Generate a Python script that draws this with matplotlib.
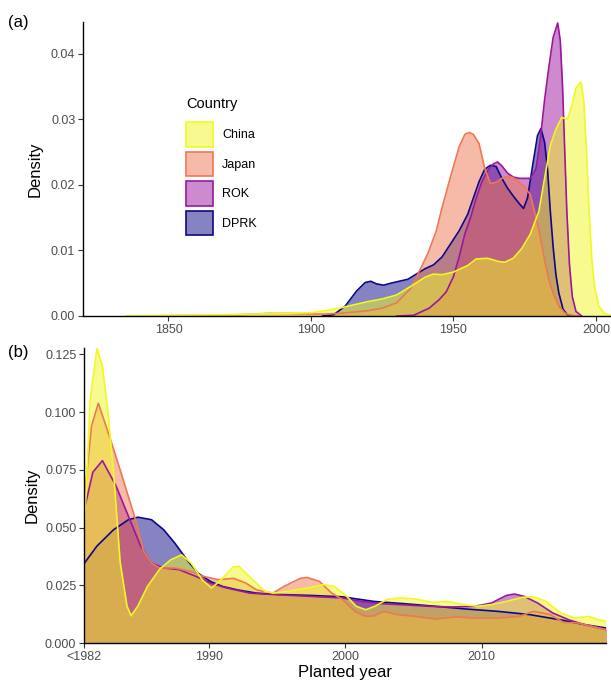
import matplotlib

matplotlib.use("Agg")
import matplotlib.pyplot as plt
from matplotlib.colors import to_rgba
from matplotlib.patches import Patch

plt.rcParams["font.family"] = ["Liberation Sans", "DejaVu Sans"]

COUNTRIES = ["China", "Japan", "ROK", "DPRK"]
COLORS = {"China": "#F0F921", "Japan": "#ED7953", "ROK": "#9C179E", "DPRK": "#0D0887"}
DRAW_ORDER = ["DPRK", "ROK", "Japan", "China"]

# ---- panel (a): full planting-year range ----
CHINA_A_YEAR = [1835, 1850, 1860, 1870, 1880, 1890, 1900, 1905, 1910, 1915, 1920, 1925,
                1930, 1935, 1940, 1943, 1946, 1950, 1955, 1958, 1962, 1966, 1968, 1971,
                1974, 1977, 1980, 1982, 1984, 1986, 1988, 1990, 1991.5, 1993, 1994.8,
                1995.7, 1996.6, 1997.5, 1998.5, 1999.5, 2001, 2003, 2005.3]
CHINA_A = [0, 0.0001, 0.00015, 0.0002, 0.0003, 0.0004, 0.0005, 0.0008, 0.0012, 0.0017,
           0.0022, 0.0026, 0.0032, 0.0045, 0.0059, 0.0064, 0.0063, 0.0067, 0.0077, 0.0087,
           0.0088, 0.0083, 0.0082, 0.0088, 0.0103, 0.0125, 0.016, 0.021, 0.026, 0.0285,
           0.0303, 0.0300, 0.032, 0.0348, 0.0357, 0.033, 0.026, 0.017, 0.009, 0.0045,
           0.0015, 0.0004, 0.0001]

JAPAN_A_YEAR = [1840, 1860, 1875, 1885, 1892, 1900, 1905, 1910, 1915, 1920, 1925, 1930,
                1935, 1938, 1941, 1944, 1946, 1948, 1950, 1952, 1954, 1955.5, 1957, 1959,
                1961, 1963, 1965, 1967, 1969, 1971, 1973, 1975, 1977, 1979, 1980.5, 1982,
                1983.5, 1985, 1987, 1989, 1991, 1994]
JAPAN_A = [0, 0.0001, 0.0002, 0.0004, 0.0004, 0.0003, 0.0003, 0.0004, 0.0006, 0.0008,
           0.0012, 0.002, 0.0042, 0.0068, 0.0095, 0.013, 0.0165, 0.0197, 0.0228, 0.0258,
           0.0277, 0.028, 0.0277, 0.0263, 0.0225, 0.0202, 0.0204, 0.021, 0.0213, 0.0211,
           0.0204, 0.0197, 0.0185, 0.015, 0.012, 0.0085, 0.0055, 0.0035, 0.0015, 0.0005,
           0.0001, 0]

ROK_A_YEAR = [1930, 1936, 1941.5, 1945, 1947.5, 1950, 1952, 1954, 1956, 1958, 1960, 1962,
              1964, 1965.5, 1967, 1969, 1971, 1973, 1975, 1977, 1979, 1980.5, 1982,
              1983.5, 1985, 1986.6, 1987.5, 1988.3, 1989, 1989.8, 1990.7, 1991.7, 1993, 1995]
ROK_A = [0, 0.0001, 0.0012, 0.0025, 0.0037, 0.006, 0.009, 0.0125, 0.015, 0.018, 0.0205,
         0.0222, 0.0232, 0.0235, 0.0229, 0.0218, 0.0212, 0.021, 0.021, 0.021, 0.0225,
         0.027, 0.033, 0.038, 0.0425, 0.0447, 0.042, 0.035, 0.026, 0.016, 0.008, 0.003,
         0.0007, 0]

DPRK_A_YEAR = [1904, 1908, 1912, 1916, 1919, 1921, 1923, 1925.5, 1928, 1931, 1934, 1937,
               1940, 1943, 1946, 1949, 1952, 1955, 1957, 1959, 1961, 1963, 1965, 1967,
               1969, 1971, 1973, 1974.6, 1976, 1978, 1979.5, 1980.7, 1982, 1983, 1984,
               1985, 1986, 1987, 1988.5, 1990, 1992]
DPRK_A = [0, 0.0002, 0.0015, 0.0038, 0.0051, 0.0053, 0.0049, 0.0047, 0.005, 0.0053,
          0.0056, 0.0064, 0.0072, 0.0078, 0.009, 0.011, 0.013, 0.0155, 0.018, 0.0205,
          0.0224, 0.023, 0.0228, 0.021, 0.0195, 0.0183, 0.0172, 0.0164, 0.018, 0.0235,
          0.0275, 0.0286, 0.0265, 0.0225, 0.016, 0.0105, 0.0062, 0.0035, 0.001, 0.0002, 0]

# ---- panel (b): 1982 onwards (earlier years pooled as "<1982") ----
CHINA_B_YEAR = [1980.88, 1981.3, 1981.8, 1982.2, 1982.6, 1983.0, 1983.5, 1984.0, 1984.3,
                1984.8, 1985.5, 1986.4, 1987.2, 1988.0, 1988.7, 1989.5, 1990.2, 1991.0,
                1991.8, 1992.2, 1993.1, 1994.1, 1994.8, 1995.8, 1997.2, 1998.4, 1999.2,
                2000.1, 2000.8, 2001.5, 2002.2, 2003.1, 2004.1, 2005.2, 2006.4, 2007.5,
                2008.7, 2009.7, 2010.7, 2011.8, 2013.0, 2013.8, 2014.7, 2015.8, 2016.8,
                2017.8, 2018.6, 2019.1]
CHINA_B = [0.05, 0.105, 0.1277, 0.12, 0.10, 0.075, 0.035, 0.016, 0.0118, 0.016, 0.0245,
           0.032, 0.036, 0.0382, 0.0346, 0.0274, 0.0238, 0.028, 0.033, 0.0332, 0.028,
           0.0224, 0.0216, 0.0224, 0.0238, 0.0253, 0.0245, 0.0202, 0.0159, 0.0144, 0.016,
           0.019, 0.0195, 0.019, 0.0176, 0.018, 0.0166, 0.0159, 0.0166, 0.018, 0.0198,
           0.020, 0.018, 0.013, 0.0108, 0.0115, 0.010, 0.0094]

JAPAN_B_YEAR = [1980.88, 1981.4, 1981.9, 1982.8, 1983.5, 1984.1, 1984.7, 1985.2, 1985.8,
                1986.4, 1987.5, 1988.7, 1989.5, 1990.7, 1991.8, 1992.7, 1993.5, 1994.7,
                1995.5, 1996.7, 1997.2, 1998.1, 1999.0, 1999.8, 2000.7, 2001.5, 2002.1,
                2002.8, 2003.8, 2005.2, 2006.6, 2008.1, 2009.5, 2011.2, 2012.7, 2013.8,
                2015.0, 2016.0, 2017.0, 2018.1, 2019.1]
JAPAN_B = [0.063, 0.094, 0.1039, 0.088, 0.075, 0.0635, 0.052, 0.040, 0.0346, 0.0325,
           0.0325, 0.031, 0.029, 0.0274, 0.028, 0.026, 0.023, 0.0216, 0.0245, 0.028,
           0.0284, 0.0267, 0.0216, 0.0188, 0.0137, 0.0115, 0.0118, 0.0137, 0.0123, 0.0115,
           0.0104, 0.0113, 0.0108, 0.0108, 0.0115, 0.0137, 0.0123, 0.0089, 0.0087, 0.0072,
           0.0058]

ROK_B_YEAR = [1980.88, 1981.5, 1982.2, 1983.2, 1984.1, 1985.0, 1985.8, 1986.7, 1987.8,
              1989.0, 1990.1, 1991.2, 1993.0, 1994.7, 1996.4, 1998.1, 1999.8, 2001.2,
              2002.7, 2004.1, 2006.1, 2007.8, 2009.5, 2010.7, 2011.8, 2012.4, 2013.1,
              2014.1, 2015.2, 2016.4, 2017.5, 2019.1]
ROK_B = [0.058, 0.074, 0.079, 0.068, 0.055, 0.042, 0.0346, 0.0325, 0.0318, 0.029, 0.026,
         0.024, 0.0216, 0.021, 0.0205, 0.020, 0.0195, 0.018, 0.017, 0.0166, 0.0159, 0.0156,
         0.0159, 0.0173, 0.0206, 0.0212, 0.0202, 0.0173, 0.013, 0.010, 0.008, 0.0058]

DPRK_B_YEAR = [1980.88, 1981.8, 1983.0, 1984.1, 1984.8, 1985.8, 1986.7, 1987.5, 1988.4,
               1989.2, 1990.1, 1991.0, 1992.1, 1993.5, 1995.2, 1997.5, 1999.8, 2002.1,
               2004.4, 2006.6, 2008.9, 2011.2, 2013.5, 2015.8, 2017.5, 2019.1]
DPRK_B = [0.0346, 0.042, 0.049, 0.0534, 0.0545, 0.0534, 0.049, 0.0433, 0.036, 0.0303,
          0.0267, 0.0245, 0.023, 0.0216, 0.021, 0.0206, 0.020, 0.018, 0.017, 0.0159,
          0.0147, 0.0137, 0.0123, 0.010, 0.008, 0.0065]

PANEL_A = {"China": (CHINA_A_YEAR, CHINA_A), "Japan": (JAPAN_A_YEAR, JAPAN_A),
           "ROK": (ROK_A_YEAR, ROK_A), "DPRK": (DPRK_A_YEAR, DPRK_A)}
PANEL_B = {"China": (CHINA_B_YEAR, CHINA_B), "Japan": (JAPAN_B_YEAR, JAPAN_B),
           "ROK": (ROK_B_YEAR, ROK_B), "DPRK": (DPRK_B_YEAR, DPRK_B)}

TICK_GREY = "#4D4D4D"


def draw_density(ax, series):
    for name in DRAW_ORDER:
        x, y = series[name]
        ax.fill_between(x, y, 0, color=COLORS[name], alpha=0.5, lw=0)
        ax.plot(x, y, color=COLORS[name], lw=1.2, solid_capstyle="round")


def style_axes(ax):
    for side in ("top", "right"):
        ax.spines[side].set_visible(False)
    for side in ("left", "bottom"):
        ax.spines[side].set_linewidth(1.0)
        ax.spines[side].set_color("black")
    ax.tick_params(axis="both", length=3.5, width=0.8, color="#333333",
                   labelsize=9, labelcolor=TICK_GREY, pad=2)


fig = plt.figure(figsize=(6.11, 6.85), dpi=100)

ax_a = fig.add_axes([83 / 611, 1 - 316 / 685, 528 / 611, 294.3 / 685])
draw_density(ax_a, PANEL_A)
ax_a.set_xlim(1820, 2005.3)
ax_a.set_ylim(0, 0.0449)
ax_a.set_xticks([1850, 1900, 1950, 2000])
ax_a.set_yticks([0, 0.01, 0.02, 0.03, 0.04])
ax_a.set_yticklabels(["0.00", "0.01", "0.02", "0.03", "0.04"])
ax_a.set_ylabel("Density", fontsize=12, labelpad=6)
style_axes(ax_a)

ax_b = fig.add_axes([84 / 611, 1 - 643 / 685, 522 / 611, 295 / 685])
draw_density(ax_b, PANEL_B)
ax_b.set_xlim(1980.85, 2019.1)
ax_b.set_ylim(0, 0.1278)
ax_b.set_xticks([1980.85, 1990, 2000, 2010])
ax_b.set_xticklabels(["<1982", "1990", "2000", "2010"])
ax_b.set_yticks([0, 0.025, 0.05, 0.075, 0.1, 0.125])
ax_b.set_yticklabels(["0.000", "0.025", "0.050", "0.075", "0.100", "0.125"])
ax_b.set_ylabel("Density", fontsize=12, labelpad=4)
ax_b.set_xlabel("Planted year", fontsize=12, labelpad=2)
style_axes(ax_b)

fig.text(8 / 611, 1 - 23 / 685, "(a)", fontsize=12, va="center", ha="left")
fig.text(8 / 611, 1 - 352 / 685, "(b)", fontsize=12, va="center", ha="left")

handles = [Patch(facecolor=to_rgba(COLORS[c], 0.5), edgecolor=COLORS[c], linewidth=1.2)
           for c in COUNTRIES]
leg = fig.legend(handles, COUNTRIES, title="Country", loc="upper left",
                 bbox_to_anchor=(186 / 611, 1 - 97 / 685), frameon=False,
                 fontsize=9, title_fontsize=10.5, handlelength=2.15, handleheight=2.65,
                 labelspacing=0.4, handletextpad=0.75, borderpad=0, borderaxespad=0)
leg._legend_box.align = "left"
leg._legend_box.sep = 8

fig.savefig("out.png", dpi=100)
